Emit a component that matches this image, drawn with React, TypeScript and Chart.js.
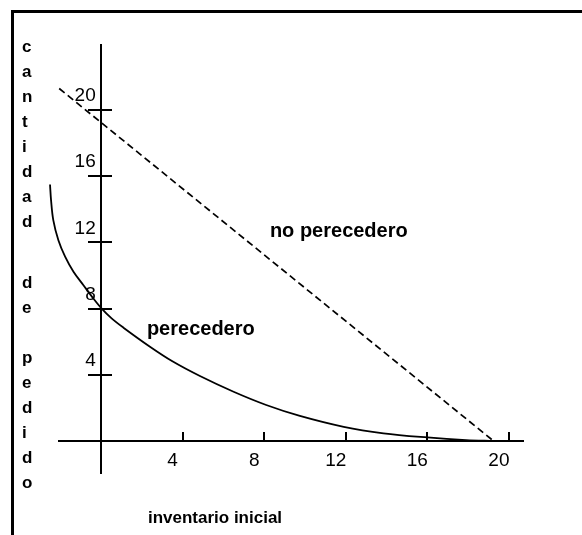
import { useEffect, useRef } from "react";
import { Chart, registerables } from "chart.js";

Chart.register(...registerables);

// ---- data ----
const xTickValues = [4, 8, 12, 16, 20];
const yTickValues = [4, 8, 12, 16, 20];

const perecederoX = [-2.5, -2.45, -2.34, -2.09, -1.76, -1.35, -0.87, -0.38, 0, 0.52, 1.1, 2.4, 3.5, 4.85, 6.5, 8.1, 9.75, 11.9, 13.85, 16, 17.9, 19.25];
const perecederoY = [15.5, 14.56, 13.35, 12.13, 11.14, 10.23, 9.43, 8.62, 8.05, 7.41, 6.85, 5.7, 4.82, 3.93, 2.98, 2.18, 1.52, 0.86, 0.47, 0.22, 0.06, 0];

const noPerecederoX = [-2.05, 19.25];
const noPerecederoY = [21.3, 0];

const seriesLabels = ["no perecedero", "perecedero"];
const xTitle = "inventario inicial";
const yTitleWords = ["cantidad", "de", "pedido"];

const FONT = '"Liberation Sans", Arial, sans-serif';

const textPlugin = {
  id: "textPlugin",
  afterDatasetsDraw(chart: any) {
    const { ctx, chartArea } = chart;
    const xs = chart.scales.x;
    const ys = chart.scales.y;
    ctx.save();
    ctx.fillStyle = "#000";
    ctx.textBaseline = "alphabetic";
    ctx.textAlign = "left";
    // series annotations
    ctx.font = `bold 20px ${FONT}`;
    ctx.fillText(seriesLabels[0], xs.getPixelForValue(8.28), ys.getPixelForValue(12.3));
    ctx.fillText(seriesLabels[1], xs.getPixelForValue(2.25), ys.getPixelForValue(6.43));
    // x title
    ctx.font = `bold 17px ${FONT}`;
    ctx.fillText(xTitle, xs.getPixelForValue(2.3), chartArea.bottom + 50);
    // y title, stacked letters
    const starts = [6.7, 243, 317.5];
    const lh = 25.1;
    const tx = chartArea.left - 37;
    yTitleWords.forEach((w, wi) => {
      for (let i = 0; i < w.length; i++) {
        ctx.fillText(w[i], tx, chartArea.top + starts[wi] + i * lh);
      }
    });
    ctx.restore();
  },
};

export default function App() {
  const ref = useRef<HTMLCanvasElement>(null);

  useEffect(() => {
    if (!ref.current) return;
    const setTicks = (vals: number[]) => (axis: any) => {
      axis.ticks = vals.map((v) => ({ value: v }));
    };
    const chart = new Chart(ref.current, {
      type: "scatter",
      data: {
        datasets: [
          {
            label: seriesLabels[0],
            data: noPerecederoX.map((x, i) => ({ x, y: noPerecederoY[i] })),
            showLine: true,
            borderColor: "#000",
            borderWidth: 1.7,
            borderDash: [7, 4],
            pointRadius: 0,
            clip: false as any,
          },
          {
            label: seriesLabels[1],
            data: perecederoX.map((x, i) => ({ x, y: perecederoY[i] })),
            indexAxis: "y",
            showLine: true,
            borderColor: "#000",
            borderWidth: 1.8,
            pointRadius: 0,
            tension: 0.35,
            clip: false as any,
          } as any,
        ],
      },
      options: {
        animation: false,
        responsive: false,
        layout: { padding: { left: 59, top: 45, right: 59, bottom: 62 } },
        plugins: { legend: { display: false }, tooltip: { enabled: false } },
        events: [],
        scales: {
          x: {
            type: "linear",
            min: -2.06,
            max: 20.69,
            position: { y: 0 } as any,
            afterBuildTicks: setTicks(xTickValues),
            grid: {
              display: true,
              drawOnChartArea: false,
              drawTicks: true,
              tickLength: -10,
              color: "#000",
              lineWidth: 2,
            },
            border: { display: true, color: "#000", width: 2 },
            ticks: {
              color: "#000",
              font: { family: FONT, size: 19 },
              padding: 18,
              labelOffset: -10,
              maxRotation: 0,
              autoSkip: false,
            },
          },
          y: {
            type: "linear",
            min: -1.93,
            max: 23.93,
            position: { x: 0 } as any,
            afterBuildTicks: setTicks(yTickValues),
            grid: {
              display: true,
              drawOnChartArea: false,
              drawTicks: true,
              tickLength: 12,
              color: "#000",
              lineWidth: 2,
            },
            border: { display: true, color: "#000", width: 2 },
            ticks: {
              color: "#000",
              font: { family: FONT, size: 19 },
              padding: 0,
              labelOffset: -14,
              autoSkip: false,
              callback: (v: any) => `${v} `,
            },
          },
          y2: {
            type: "linear",
            min: -1.93,
            max: 23.93,
            position: { x: 0 } as any,
            afterBuildTicks: setTicks(yTickValues),
            grid: {
              display: true,
              drawOnChartArea: false,
              drawTicks: true,
              tickLength: -11,
              color: "#000",
              lineWidth: 2,
            },
            border: { display: false },
            ticks: { display: false, autoSkip: false },
          },
        },
      },
      plugins: [textPlugin],
    });
    return () => chart.destroy();
  }, []);

  return (
    <div
      style={{
        position: "fixed",
        left: 0,
        top: 0,
        width: 582,
        height: 535,
        overflow: "hidden",
        background: "#fff",
      }}
    >
      <div
        style={{
          position: "absolute",
          left: 11,
          top: 10,
          width: 620,
          height: 600,
          borderLeft: "3px solid #000",
          borderTop: "3px solid #000",
        }}
      />
      <canvas
        ref={ref}
        width={582}
        height={535}
        style={{ position: "absolute", left: 0, top: 0, width: 582, height: 535 }}
      />
    </div>
  );
}
